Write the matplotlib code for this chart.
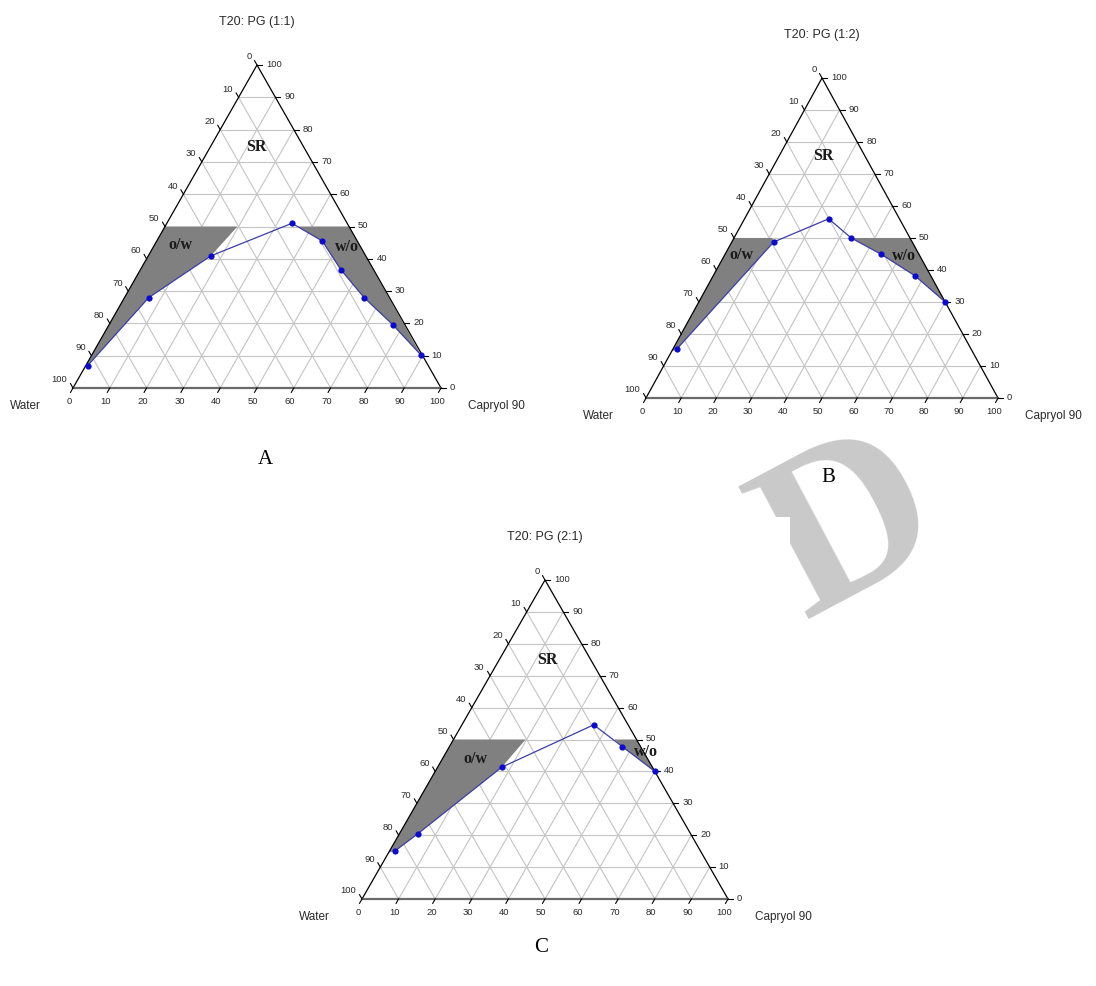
import numpy as np
import matplotlib.pyplot as plt
from matplotlib.patches import Rectangle

W_PX, H_PX = 1096, 986
fig = plt.figure(figsize=(10.96, 9.86), dpi=100)
fig.patch.set_facecolor('white')

sans = ['Liberation Sans', 'DejaVu Sans']
serif = ['Liberation Serif', 'DejaVu Serif']

# ---- data: compositions (oil = Capryol 90 %, surf = T20:PG %) ----
# panel A  T20: PG (1:1)
A_oil = [0.5, 6.6, 17.0, 34.0, 45.0, 54.5, 65.1, 77.1, 89.6]
A_surf = [6.9, 28.0, 40.9, 51.0, 45.5, 36.6, 28.0, 19.6, 10.1]
A_ow_oil = [0, 19.7, 17.0, 6.6, 0.5, 0]
A_ow_surf = [50, 50, 40.9, 28.0, 6.9, 6.5]
A_wo_oil = [36.0, 50, 89.6, 77.1, 65.1, 54.5, 45.0]
A_wo_surf = [50, 50, 10.1, 19.6, 28.0, 36.6, 45.5]

# panel B  T20: PG (1:2)
B_oil = [1.1, 11.9, 23.9, 33.3, 44.4, 57.3, 70.0]
B_surf = [15.3, 48.75, 56.0, 50.0, 44.9, 38.2, 30.0]
B_ow_oil = [0, 10.9, 11.9, 1.1, 0]
B_ow_surf = [50, 50, 48.75, 15.3, 14.5]
B_wo_oil = [33.3, 50, 70.0, 57.3, 44.4]
B_wo_surf = [50, 50, 30.0, 38.2, 44.9]

# panel C  T20: PG (2:1)
C_oil = [1.5, 5.0, 17.5, 36.0, 47.2, 60.0]
C_surf = [15.1, 20.4, 41.3, 54.6, 47.8, 40.0]
C_ow_oil = [0, 19.7, 17.5, 5.0, 1.5, 0]
C_ow_surf = [50, 50, 41.3, 20.4, 15.1, 14.5]
C_wo_oil = [44.0, 50, 60.0, 47.2]
C_wo_surf = [50, 50, 40.0, 47.8]

ticks = list(range(0, 101, 10))

GRID = '#c4c4c4'
TXT = '#2a2a2a'


def to_xy(oil, surf):
    oil = np.asarray(oil, float)
    surf = np.asarray(surf, float)
    return oil + surf / 2, surf


def fx(px):
    return px / W_PX


def fy(py):
    return 1 - py / H_PX


def draw_panel(box, title, oil, surf, ow, wo, lab_pos):
    x0, x1, ybase, ytop = box
    ax = fig.add_axes([fx(x0), fy(ybase), (x1 - x0) / W_PX, (ybase - ytop) / H_PX])
    ax.set_xlim(0, 100)
    ax.set_ylim(0, 100)
    ax.axis('off')
    sx = (x1 - x0) / 100.0
    sy = (ybase - ytop) / 100.0

    # grid lines
    for v in ticks[1:-1]:
        ax.plot([v / 2, 100 - v / 2], [v, v], color=GRID, lw=0.8, zorder=1)
        ax.plot([v, v + (100 - v) / 2], [0, 100 - v], color=GRID, lw=0.8, zorder=1)
        ax.plot([100 - v, (100 - v) / 2], [0, 100 - v], color=GRID, lw=0.8, zorder=1)

    # shaded regions
    px, py = to_xy(*ow)
    ax.fill(px, py, color='#808080', lw=0, zorder=2)
    px, py = to_xy(*wo)
    ax.fill(px, py, color='#808080', lw=0, zorder=2)

    # frame
    ax.plot([0, 50, 100], [0, 100, 0], color='black', lw=0.9, zorder=3, clip_on=False)
    ax.plot([0, 100], [0, 0], color='#6a6a6a', lw=1.6, zorder=3, clip_on=False)

    def tick(xd, yd, dx_px, dy_px):
        n = np.hypot(dx_px, dy_px)
        L = 5.0
        ax.plot([xd, xd + dx_px / n * L / sx], [yd, yd + dy_px / n * L / sy],
                color='black', lw=0.8, clip_on=False, zorder=3)

    for v in ticks:
        # left axis (water)
        tick(v / 2, v, -0.5 * sx, 1.0 * sy)
        ax.annotate(str(100 - v), (v / 2, v), xytext=(-4.0, 5.8), textcoords='offset points',
                    ha='right', va='center', fontsize=6.8, family=sans, color=TXT,
                    annotation_clip=False)
        # right axis (surfactant mix)
        tick(100 - v / 2, v, 1.0, 0.0)
        ax.annotate(str(v), (100 - v / 2, v), xytext=(6.5, 0.4), textcoords='offset points',
                    ha='left', va='center', fontsize=6.8, family=sans, color=TXT,
                    annotation_clip=False)
        # bottom axis (oil)
        tick(v, 0, -0.5 * sx, -1.0 * sy)
        ax.annotate(str(v), (v, 0), xytext=(-2.8, -10.0), textcoords='offset points',
                    ha='center', va='center', fontsize=6.8, family=sans, color=TXT,
                    annotation_clip=False)

    # tie line + points
    px, py = to_xy(oil, surf)
    ax.plot(px, py, color='#3c3ca8', lw=0.9, zorder=4, clip_on=False)
    ax.plot(px, py, 'o', color='#0a0ad0', ms=4.5, mew=0, zorder=5, clip_on=False)

    # region labels
    for txt, (o, s) in zip(['SR', 'o/w', 'w/o'], lab_pos):
        xx, yy = to_xy(o, s)
        ax.text(xx, yy, txt, ha='center', va='center', fontsize=11.5, fontweight='bold',
                family=serif, color='#1a1a1a', zorder=6)

    # titles
    ax.annotate(title, (50, 100), xytext=(0, 31), textcoords='offset points',
                ha='center', va='center', fontsize=9, family=sans, color=TXT,
                annotation_clip=False)
    ax.annotate('Water', (0, 0), xytext=(-34.5, -13), textcoords='offset points',
                ha='center', va='center', fontsize=8.5, family=sans, color=TXT,
                annotation_clip=False)
    ax.annotate('Capryol 90', (100, 0), xytext=(40, -13), textcoords='offset points',
                ha='center', va='center', fontsize=8.5, family=sans, color=TXT,
                annotation_clip=False)
    return ax


# faint watermark letter behind the pasted figure panels (only partly visible)
fig.text(fx(852), fy(532), 'D', rotation=28, rotation_mode='anchor', ha='center', va='center',
         fontsize=165, fontweight='bold', family=serif, color='#c9c9c9', zorder=-3)
# white backgrounds of the panel images hide part of it
for (l, t, r, b) in [(0, 0, 548, 440), (560, 0, 1096, 430), (290, 517, 790, 905)]:
    fig.add_artist(Rectangle((fx(l), fy(b)), (r - l) / W_PX, (b - t) / H_PX,
                             transform=fig.transFigure, facecolor='white',
                             edgecolor='none', zorder=-2))

draw_panel((73, 441, 388, 65), 'T20: PG (1:1)', A_oil, A_surf,
           (A_ow_oil, A_ow_surf), (A_wo_oil, A_wo_surf),
           [(12.6, 74.7), (6.9, 44.3), (52.5, 43.8)])
draw_panel((646, 998, 398, 78), 'T20: PG (1:2)', B_oil, B_surf,
           (B_ow_oil, B_ow_surf), (B_wo_oil, B_wo_surf),
           [(12.7, 75.5), (4.8, 44.8), (51.0, 44.5)])
draw_panel((362, 728, 899, 580), 'T20: PG (2:1)', C_oil, C_surf,
           (C_ow_oil, C_ow_surf), (C_wo_oil, C_wo_surf),
           [(13.2, 74.9), (9.0, 43.8), (54.5, 46.0)])

for letter, (lx, ly) in zip(['A', 'B', 'C'], [(265, 460), (828, 478), (541, 948)]):
    fig.text(fx(lx), fy(ly), letter, ha='center', va='center',
             fontsize=15, family=serif, color='black')

fig.savefig('out.png', dpi=100, facecolor='white')
